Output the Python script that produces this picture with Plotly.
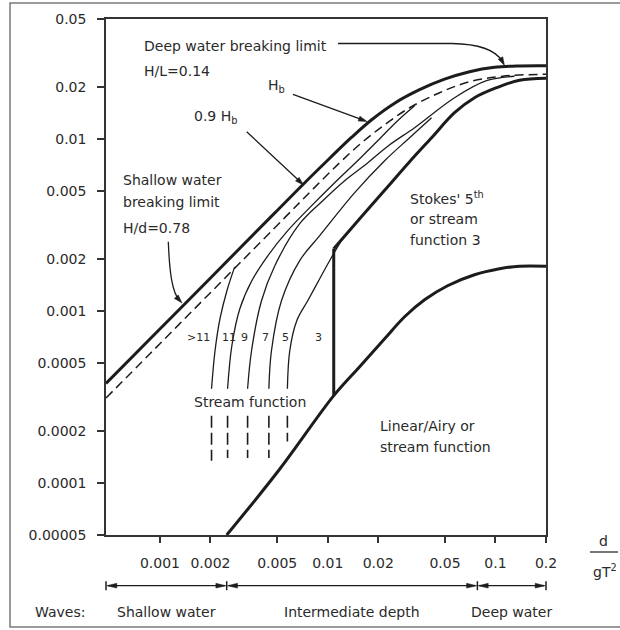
import numpy as np
import plotly.graph_objects as go

# ---------------- data (x = d/gT^2, y = H/gT^2) ----------------
x_ticks = [0.001, 0.002, 0.005, 0.01, 0.02, 0.05, 0.1, 0.2]
x_ticktext = ["0.001", "0.002", "0.005", "0.01", "0.02", "0.05", "0.1", "0.2"]
y_ticks = [0.05, 0.02, 0.01, 0.005, 0.002, 0.001, 0.0005, 0.0002, 0.0001, 0.00005]
y_ticktext = ["0.05", "0.02", "0.01", "0.005", "0.002", "0.001", "0.0005", "0.0002", "0.0001", "0.00005"]

# breaking limit H_b (thick)
hb_x = [0.000477, 0.000872, 0.001616, 0.002994, 0.00484, 0.0071, 0.01028, 0.0139, 0.01828,
        0.02505, 0.03528, 0.0497, 0.070, 0.0986, 0.1389, 0.2]
hb_y = [0.00038, 0.00069, 0.001264, 0.002324, 0.003728, 0.00544, 0.00775, 0.01027, 0.01298,
        0.0162, 0.0194, 0.02233, 0.0247, 0.0262, 0.02668, 0.02674]
# 0.9 H_b (dashed)
hb09_x = [0.000477, 0.000872, 0.001616, 0.002994, 0.005546, 0.00814, 0.01179, 0.01594, 0.02184,
          0.03077, 0.04642, 0.070, 0.1101, 0.2]
hb09_y = [0.000313, 0.000566, 0.001039, 0.001906, 0.0035, 0.00511, 0.0073, 0.00954, 0.01214,
          0.01524, 0.01864, 0.0216, 0.02324, 0.02387]
# Stokes 5th / stream function 3 boundary (thick)
stokes_vx = [0.01086, 0.01086]
stokes_vy = [0.000323, 0.00231]
stokes_x = [0.01086, 0.0155, 0.02184, 0.03077, 0.04159, 0.057, 0.075, 0.1014, 0.1389, 0.2]
stokes_y = [0.00231, 0.003449, 0.00505, 0.0074, 0.0102, 0.01426, 0.01743, 0.01993, 0.02203, 0.02263]
# Linear / Airy boundary (thick)
linear_x = [0.0025, 0.00518, 0.01086, 0.0155, 0.02184, 0.02873, 0.03779, 0.0518, 0.075, 0.1057, 0.1389, 0.2]
linear_y = [0.00005, 0.000121, 0.000323, 0.000476, 0.000692, 0.000929, 0.001166, 0.001407, 0.00163,
            0.001766, 0.001827, 0.001827]
# stream function order boundaries (thin)
sfA_x = [0.00203, 0.00213, 0.00228, 0.00251, 0.00279]
sfA_y = [0.000354, 0.000589, 0.000905, 0.00132, 0.00181]
sfB_x = [0.00253, 0.002683, 0.002994, 0.003528, 0.004394, 0.005779, 0.00781, 0.011, 0.01551, 0.02042,
         0.0261, 0.03296]
sfB_y = [0.000354, 0.00063, 0.001034, 0.001504, 0.0021, 0.00294, 0.004, 0.005585, 0.0077, 0.01007,
         0.01282, 0.01566]
sfC_x = [0.00333, 0.003515, 0.00403, 0.00484, 0.00681, 0.00934, 0.01262, 0.01707, 0.0233, 0.03296,
         0.0570, 0.0884, 0.1298]
sfC_y = [0.000354, 0.000589, 0.00115, 0.00184, 0.003227, 0.00439, 0.00574, 0.0072, 0.00925, 0.01167,
         0.01743, 0.02188, 0.02324]
sfD_x = [0.00446, 0.00462, 0.0053, 0.00681, 0.00896, 0.01448, 0.02184, 0.03077, 0.04159]
sfD_y = [0.000354, 0.000589, 0.00115, 0.00197, 0.00275, 0.00489, 0.0075, 0.0102, 0.01334]
sfE_x = [0.00575, 0.00594, 0.00654, 0.0076, 0.00896, 0.01042, 0.01212]
sfE_y = [0.000354, 0.000589, 0.000881, 0.00115, 0.001545, 0.00202, 0.0026]
# dashed stubs below the order curves
stub_x = [0.00203, 0.00253, 0.00333, 0.00446, 0.00575]
stub_top = [0.000247, 0.000247, 0.000247, 0.000247, 0.000247]
stub_bottom = [0.000135, 0.00014, 0.00014, 0.00014, 0.000175]
# order labels
order_labels = [">11", "11", "9", "7", "5", "3"]
order_x = [0.00169, 0.002585, 0.003206, 0.004275, 0.005623, 0.00876]
order_y = [0.000704] * 6
# water depth ranges
wave_bounds = [0.000477, 0.0025, 0.078, 0.2]
wave_names = ["Shallow water", "Intermediate depth", "Deep water"]

XR = [np.log10(0.000477), np.log10(0.2)]
YR = [np.log10(0.00005), np.log10(0.05)]

L, R, T, B = 106, 74, 19, 95
W, H = 620, 630
PW, PH = W - L - R, H - T - B


def P(px, py):
    return (px - L) / PW, ((H - B) - py) / PH


def xpix(v):
    return L + (np.log10(v) - XR[0]) / (XR[1] - XR[0]) * PW


INK = "#1c1c1c"
TXT = "#2a2a2a"
FONT = "DejaVu Sans"

fig = go.Figure()


def line(x, y, width, dash="solid", shape="spline"):
    fig.add_trace(go.Scatter(x=x, y=y, mode="lines",
                             line=dict(color=INK, width=width, dash=dash, shape=shape, smoothing=1.0),
                             hoverinfo="skip", showlegend=False))


line(hb_x, hb_y, 3)
line(hb09_x, hb09_y, 1.5, dash="9px,5px")
line(stokes_vx, stokes_vy, 3, shape="linear")
line(stokes_x, stokes_y, 3)
line(linear_x, linear_y, 3)
for xs, ys in [(sfA_x, sfA_y), (sfB_x, sfB_y), (sfC_x, sfC_y), (sfD_x, sfD_y), (sfE_x, sfE_y)]:
    line(xs, ys, 1.3)
for sx, t, b in zip(stub_x, stub_top, stub_bottom):
    line([sx, sx], [t, b], 1.6, dash="12px,5px", shape="linear")

ann = []

# order labels placed through the axes' (log) scales
for lab, ox, oy in zip(order_labels, order_x, order_y):
    ann.append(dict(xref="x", yref="y", x=np.log10(ox), y=np.log10(oy), text=lab, showarrow=False,
                    xanchor="center", yanchor="middle", font=dict(family=FONT, size=11, color=TXT)))


def text(px, py, s, size=14, anchor="left"):
    x, y = P(px, py)
    ann.append(dict(xref="paper", yref="paper", x=x, y=y, text=s, showarrow=False,
                    xanchor=anchor, yanchor="middle", font=dict(family=FONT, size=size, color=TXT)))


text(142, 46.5, "Deep water breaking limit")
text(142, 71, "H/L=0.14")
text(266, 86, "H<sub>b</sub>")
text(192, 117, "0.9 H<sub>b</sub>")
text(121, 180, "Shallow water")
text(121, 202.5, "breaking limit")
text(121, 227.5, "H/d=0.78")
text(408, 198, "Stokes' 5<sup>th</sup>")
text(408, 219, "or stream")
text(408, 239.5, "function 3")
text(378, 426, "Linear/Airy or")
text(378, 446.5, "stream function")
text(250, 402, "Stream function", anchor="center")
text(59.5, 612, "Waves:", anchor="center")
text(603, 541, "d", anchor="center")
text(605, 571, "gT<sup>2</sup>", anchor="center")

for i, name in enumerate(wave_names):
    c = np.sqrt(wave_bounds[i] * wave_bounds[i + 1])
    text(xpix(c), 612, name, anchor="center")

shapes = []


def pstr(pts):
    return " ".join("%.5f,%.5f" % P(px, py) for px, py in pts)


def path_shape(d, width=1.3, fill=None):
    s = dict(type="path", xref="paper", yref="paper", path=d, line=dict(color=INK, width=width))
    if fill:
        s["fillcolor"] = fill
        s["line"] = dict(color=INK, width=0.5)
    shapes.append(s)


def head(hx, hy, dx, dy, length=8.5, half=2.6):
    n = np.hypot(dx, dy)
    dx, dy = dx / n, dy / n
    bx, by = hx - length * dx, hy - length * dy
    nx, ny = -dy, dx
    pts = [(hx, hy), (bx + half * nx, by + half * ny), (bx - half * nx, by - half * ny)]
    path_shape("M " + pstr(pts[:1]) + " L " + pstr(pts[1:2]) + " L " + pstr(pts[2:]) + " Z", fill=INK)


# leaders
path_shape("M " + pstr([(293, 94.3)]) + " L " + pstr([(364, 120.4)]))
head(367, 121.5, 367 - 293, 121.5 - 94.3)
path_shape("M " + pstr([(246.7, 131.7)]) + " L " + pstr([(301, 182.6)]))
head(303.5, 185, 303.5 - 246.7, 185 - 131.7)
path_shape("M " + pstr([(338, 43.5)]) + " L " + pstr([(452, 43.5)]) +
           " C " + pstr([(480, 44), (496, 51), (502, 61)]))
head(504.5, 65.5, 7, 13)
path_shape("M " + pstr([(168.3, 241.7)]) + " C " + pstr([(169.5, 272), (172, 292), (179.5, 300.5)]))
head(182, 303, 9.5, 10.5)

# depth range arrows
yr = 585.7
for i in range(len(wave_bounds) - 1):
    a, b = xpix(wave_bounds[i]), xpix(wave_bounds[i + 1])
    path_shape("M " + pstr([(a + 2, yr)]) + " L " + pstr([(b - 2, yr)]))
    head(a + 0.8, yr, -1, 0, length=10, half=2.4)
    head(b - 0.8, yr, 1, 0, length=10, half=2.4)
for bnd in wave_bounds:
    xb = xpix(bnd)
    path_shape("M " + pstr([(xb, yr - 4.5)]) + " L " + pstr([(xb, yr + 4.5)]), width=1.5)

# fraction bar
path_shape("M " + pstr([(590, 552)]) + " L " + pstr([(618, 552)]), width=1.2)
# outer frame (right edge lies outside the picture)
fx0, fy0 = P(10, 627)
fx1, fy1 = P(630, 3)
shapes.append(dict(type="rect", xref="paper", yref="paper", x0=fx0, x1=fx1, y0=fy0, y1=fy1,
                   line=dict(color="#7a7a7a", width=1.5)))

axis_common = dict(showgrid=False, zeroline=False, showline=True, linecolor="#333", linewidth=1.5,
                   mirror=True, ticks="outside", tickcolor="#333", tickwidth=1.5,
                   tickfont=dict(family=FONT, size=14, color=TXT), type="log")

fig.update_layout(
    width=W, height=H, margin=dict(l=L, r=R, t=T, b=B),
    paper_bgcolor="white", plot_bgcolor="white",
    xaxis=dict(range=XR, tickvals=x_ticks, ticktext=x_ticktext, ticklen=6,
               ticklabelstandoff=8, **axis_common),
    yaxis=dict(range=YR, tickvals=y_ticks, ticktext=y_ticktext, ticklen=7,
               ticklabelstandoff=8, **axis_common),
    annotations=ann, shapes=shapes, showlegend=False,
)

fig.write_html("out.html", config={"displayModeBar": False})
